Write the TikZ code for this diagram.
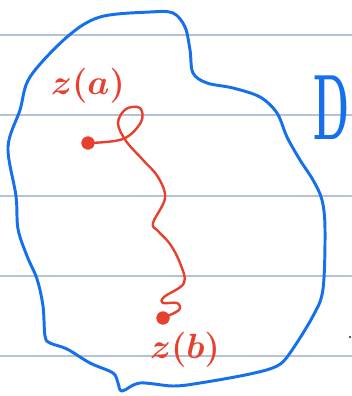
\documentclass[tikz,border=0pt]{standalone}
\usepackage{tikz}
\usepackage{xcolor}
\usetikzlibrary{positioning, calc}
\definecolor{paper}{HTML}{FFFFFF}
\definecolor{rule}{HTML}{B3C2D9}
\definecolor{pen}{HTML}{1670EC}
\definecolor{ink}{HTML}{E8402F}
\definecolor{dotk}{HTML}{222222}
\tikzset{
  ruling/.style={draw=rule, line width=1pt},
  region/.style={draw=pen, line width=2.1pt, line cap=round, line join=round},
  path/.style={draw=ink, line width=1.7pt, line cap=round, line join=round},
  endpt/.style={circle, fill=ink, draw=ink, inner sep=0pt, minimum size=9pt},
  lbl/.style={text=ink, inner sep=0pt},
}

\begin{document}
\begin{tikzpicture}[x=0.025cm, y=-0.025cm]
\useasboundingbox[fill=paper] (0,0) rectangle (352,396);

% ---------------------------------------------------------------- paper
\foreach \y in {35,115,196,276,356} {
  \draw[ruling] (0,\y) -- (352,\y);
}
\fill[dotk] (350,337) circle (1.2);

% --------------------------------------------------------------- region
\draw[region] plot[smooth cycle, tension=0.55] coordinates {
  (30,77) (67,37) (100,17) (150,12) (173,13) (185,27) (190,50)
  (193,73) (207,83) (233,88) (260,97) (277,113) (287,137) (300,160)
  (313,180) (322,200) (325,229) (323,289) (313,316) (290,353)
  (277,366) (250,374) (200,383) (173,386) (140,383) (122,391)
  (118,383) (113,373) (90,363) (67,349) (50,343) (45,336) (43,306)
  (37,279) (27,256) (18,229) (16,196) (8,147) (20,110)
};
\node[text=pen, inner sep=0pt, font=\fontsize{66}{66}\selectfont\bfseries,
      xscale=0.45, transform shape] (dom) at (331,108) {D};

% ----------------------------------------------------------------- path
\node[endpt] (za) at (88,143) {};
\node[endpt] (zb) at (163,318) {};
\node[lbl, font=\fontsize{33}{33}\selectfont\boldmath] (la) at (88,86) {$z(a)$};
\node[lbl, font=\fontsize{37}{37}\selectfont\boldmath] (lb) at (185,350) {$z(b)$};

\draw[path] plot[smooth, tension=0.6] coordinates {
  (za) (123,139) (141,122) (140,108) (126,109) (118,123) (126,141)
  (143,160) (158,177) (165,198) (153,223) (158,231) (170,244)
  (180,263) (184,283) (164,297) (163,303) (177,303) (179,310) (zb)
};

\end{tikzpicture}
\end{document}
